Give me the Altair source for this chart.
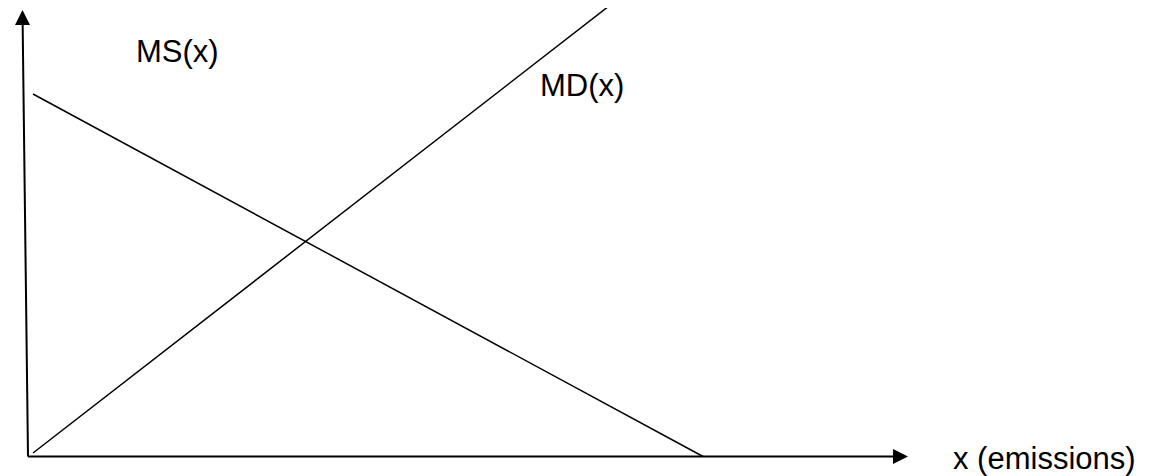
import altair as alt
import pandas as pd

# Curves (data units: x to the right of the origin, y above the x axis)
curve_names = ["MS(x)", "MS(x)", "MD(x)", "MD(x)"]
curve_x = [5, 675, 5, 581]
curve_y = [362.5, 0, 3.5, 450.5]

# Axis lines
axis_names = ["y", "y", "x", "x"]
axis_x = [0, -5.4, 0, 866]
axis_y = [0, 436.5, 0, 0]

# Arrowheads
arrow_names = ["up", "right"]
arrow_x = [-5.5, 872.5]
arrow_y = [439, 0]

# Labels
label_text = ["MS(x)", "MD(x)", "x (emissions)"]
label_x = [108, 512, 925]
label_y = [394.5, 360.5, -12.5]

curves = pd.DataFrame({"name": curve_names, "x": curve_x, "y": curve_y,
                       "order": [0, 1, 0, 1]})
axes = pd.DataFrame({"name": axis_names, "x": axis_x, "y": axis_y,
                     "order": [0, 1, 0, 1]})
arrows = pd.DataFrame({"name": arrow_names, "x": arrow_x, "y": arrow_y})
labels = pd.DataFrame({"text": label_text, "x": label_x, "y": label_y})

xs = alt.Scale(domain=[-20, 1116], nice=False, zero=False)
ys = alt.Scale(domain=[-19.5, 448.5], nice=False, zero=False)
X = lambda: alt.X("x:Q", scale=xs, axis=None)
Y = lambda: alt.Y("y:Q", scale=ys, axis=None)

curve_layer = alt.Chart(curves).mark_line(color="black", strokeWidth=1.5).encode(
    x=X(), y=Y(), detail="name:N", order="order:Q")

axis_layer = alt.Chart(axes).mark_line(color="black", strokeWidth=2).encode(
    x=X(), y=Y(), detail="name:N", order="order:Q")

up_arrow = alt.Chart(arrows[arrows.name == "up"]).mark_point(
    shape="M0,-1L-1,1L1,1Z", size=225, filled=True, color="black", opacity=1
).encode(x=X(), y=Y())

right_arrow = alt.Chart(arrows[arrows.name == "right"]).mark_point(
    shape="M1,0L-1,-1L-1,1Z", size=225, filled=True, color="black", opacity=1
).encode(x=X(), y=Y())

text_layer = alt.Chart(labels).mark_text(
    align="left", baseline="alphabetic", font="Liberation Sans",
    fontSize=31, color="black"
).encode(x=X(), y=Y(), text="text:N")

chart = alt.layer(axis_layer, curve_layer, up_arrow, right_arrow, text_layer).properties(
    width=1136, height=468, padding=0,
    autosize=alt.AutoSizeParams(type="none")
).configure_view(stroke="transparent", fill="transparent")

chart.save("out.html", embed_options={"renderer": "svg", "actions": False})
